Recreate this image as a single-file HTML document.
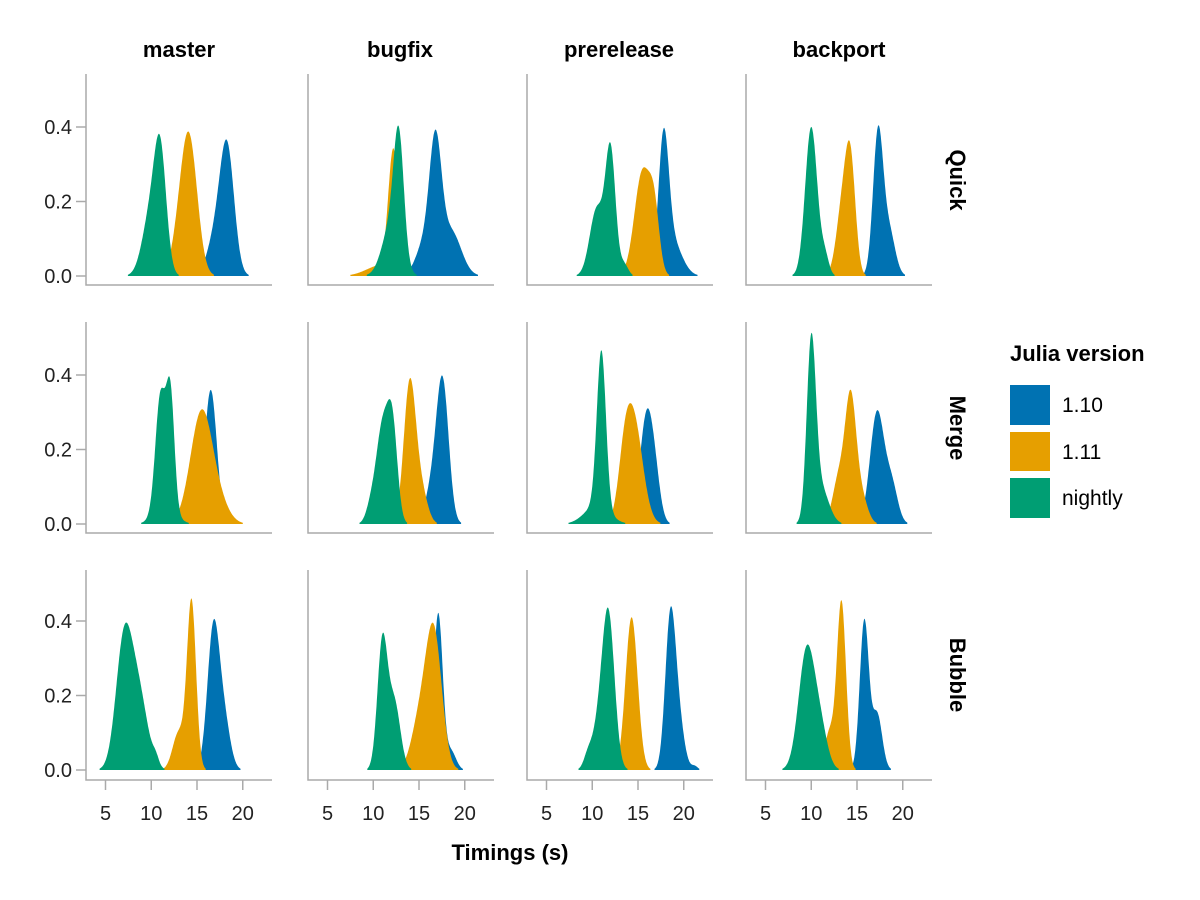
<!DOCTYPE html>
<html><head><meta charset="utf-8"><style>
body{margin:0;background:#fff;}
svg{display:block;font-family:"Liberation Sans",sans-serif;}
</style></head><body>
<svg id="s" width="1200" height="900" xmlns="http://www.w3.org/2000/svg">
<g font-size="22" font-weight="bold" fill="#000" text-anchor="middle">
<text x="179" y="57">master</text>
<text x="400" y="57">bugfix</text>
<text x="619" y="57">prerelease</text>
<text x="839" y="57">backport</text>
<text x="510" y="860">Timings (s)</text>
<text transform="translate(950,180) rotate(90)">Quick</text>
<text transform="translate(950,428) rotate(90)">Merge</text>
<text transform="translate(950,675) rotate(90)">Bubble</text>
</g>
<g font-size="21">
<text x="1010" y="361" font-weight="bold" font-size="22">Julia version</text>
<rect x="1010" y="385" width="40" height="40" fill="#0072B2"/>
<rect x="1010" y="432" width="40" height="39" fill="#E69F00"/>
<rect x="1010" y="478" width="40" height="40" fill="#009E73"/>
<text x="1062" y="412">1.10</text>
<text x="1062" y="459">1.11</text>
<text x="1062" y="505">nightly</text>
</g>
<g id="plots"></g>
</svg>
<script>
const cols=[86,308,527,746], W=186;
const rows=[{top:74,bot:285,y0:276},{top:322,bot:533,y0:524},{top:570,bot:780,y0:770}];
const ppy=74.5/0.2, ppx=9.15, xoff=19.5, K=1.1;
const C=["#0072B2","#E69F00","#009E73"];
const D=[
[ // Quick
 [[[18.3,0.7,0.33],[17,0.8,0.1]],[[14.2,0.8,0.33],[13.2,0.8,0.1]],[[11,0.6,0.3],[9.9,0.8,0.16]]],
 [[[16.8,0.6,0.33],[18.5,1,0.12],[15.5,0.8,0.08]],[[12.2,0.5,0.32],[11,1.5,0.03]],[[12.8,0.5,0.3],[12,0.9,0.14]]],
 [[[17.8,0.5,0.32],[18.6,1,0.1]],[[15.5,0.8,0.28],[16.8,0.5,0.14]],[[12,0.5,0.33],[10.5,0.7,0.18],[13.5,0.4,0.03]]],
 [[[17.3,0.5,0.38],[18.5,0.6,0.12]],[[14.3,0.5,0.28],[13.4,0.6,0.18]],[[10,0.6,0.4],[11.5,0.4,0.05]]]
],
[ // Merge
 [[[16.5,0.6,0.36]],[[15.5,1.1,0.3],[17.5,1,0.04]],[[11,0.5,0.3],[12.1,0.4,0.3],[11.5,1,0.05]]],
 [[[17.6,0.6,0.36],[16.5,0.7,0.1]],[[14,0.6,0.38],[15.3,0.6,0.08]],[[11,0.6,0.25],[12.1,0.5,0.25],[9.8,0.5,0.05]]],
 [[[16,0.7,0.3],[17,0.5,0.05]],[[14.5,0.9,0.28],[13.5,0.6,0.1]],[[11,0.45,0.42],[10.5,1.2,0.05]]],
 [[[17.2,0.7,0.3],[18.8,0.6,0.1]],[[14.3,0.55,0.33],[13,0.6,0.12],[15.5,0.6,0.07]],[[10,0.45,0.46],[11,0.8,0.1]]]
],
[ // Bubble
 [[[16.8,0.6,0.38],[18,0.6,0.12]],[[14.4,0.45,0.45],[13,0.6,0.1]],[[7,0.8,0.33],[8.6,0.9,0.2],[10.5,0.3,0.02]]],
 [[[17.1,0.45,0.42],[18.5,0.5,0.05]],[[16.6,0.8,0.37],[15,0.8,0.12]],[[11,0.5,0.34],[12.3,0.6,0.18]]],
 [[[18.5,0.5,0.36],[19.3,0.6,0.15],[21.2,0.3,0.01]],[[14.3,0.6,0.41]],[[11.8,0.6,0.38],[10.8,0.7,0.12],[9.5,0.4,0.03]]],
 [[[15.8,0.45,0.4],[17.2,0.5,0.15]],[[13.3,0.45,0.45],[12,0.5,0.1]],[[9.5,0.8,0.32],[11,0.7,0.1]]]
]];
let h="";
for(let r=0;r<3;r++)for(let c=0;c<4;c++){
 const x0=cols[c],R=rows[r];
 const X=v=>x0+xoff+(v-5)*ppx;
 for(let s=0;s<3;s++){
  const comp=D[r][c][s];
  const f=v=>comp.reduce((a,[m,sd,A])=>a+A*Math.exp(-0.5*((v-m)/(sd*K))**2),0);
  let pts=[];
  for(let v=2;v<=24;v+=0.05){const y=f(v);if(y>0.003)pts.push([X(v),R.y0-y*ppy]);}
  if(!pts.length)continue;
  let d="M"+pts[0][0].toFixed(1)+","+R.y0;
  pts.forEach(p=>d+="L"+p[0].toFixed(1)+","+p[1].toFixed(1));
  d+="L"+pts[pts.length-1][0].toFixed(1)+","+R.y0+"Z";
  h+=`<path d="${d}" fill="${C[s]}"/>`;
 }
 h+=`<path d="M${x0},${R.top}V${R.bot}H${x0+W}" fill="none" stroke="#aaa" stroke-width="1.5"/>`;
 if(c==0){[0,0.2,0.4].forEach(t=>{const y=R.y0-t*ppy;
  h+=`<line x1="${x0-10}" x2="${x0}" y1="${y}" y2="${y}" stroke="#aaa" stroke-width="1.5"/>`;
  h+=`<text x="${x0-14}" y="${y+7}" font-size="20" text-anchor="end" fill="#222">${t.toFixed(1)}</text>`;});}
 if(r==2){[5,10,15,20].forEach(t=>{const x=X(t);
  h+=`<line x1="${x}" x2="${x}" y1="${R.bot}" y2="${R.bot+10}" stroke="#aaa" stroke-width="1.5"/>`;
  h+=`<text x="${x}" y="${R.bot+40}" font-size="20" text-anchor="middle" fill="#222">${t}</text>`;});}
}
document.getElementById("plots").innerHTML=h;
</script>
</body></html>
